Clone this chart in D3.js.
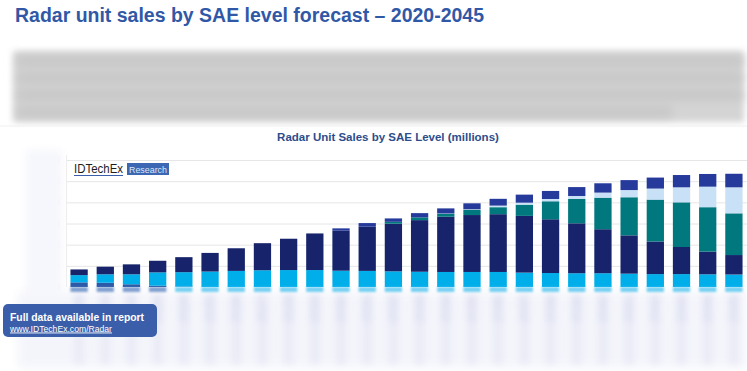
<!DOCTYPE html>
<html>
<head>
<meta charset="utf-8">
<script src="https://cdn.jsdelivr.net/npm/d3@7"></script>
<style>
  body { margin: 0; background: #fff; }
  svg { display: block; font-family: "Liberation Sans", Arial, sans-serif; }
</style>
</head>
<body>
<script>
// data (millions of units)
const years = d3.range(2020, 2046).map(String)
const level0 = [11, 10, 6.5, 3, 1, 0, 0, 0, 0, 0, 0, 0, 0, 0, 0, 0, 0, 0, 0, 0, 0, 0, 0, 0, 0, 0]
const level1 = [17, 20, 23.5, 31.5, 34, 36.5, 38, 39.5, 40, 40, 38.5, 38, 37, 36, 35.5, 35.5, 35.5, 34, 33, 32.5, 32.5, 31.5, 30.5, 30.5, 30, 29.5]
const level2 = [13.5, 18, 23.5, 27.5, 35.5, 44, 53.5, 64, 74, 86.5, 94.5, 104.5, 112.5, 122, 130.5, 134.5, 136.5, 134, 127, 118, 104, 90.5, 77, 64, 53.5, 46]
const level3 = [0, 0, 0, 0, 0, 0, 0, 0, 0, 0, 0, 0, 4.5, 6.5, 7, 12.5, 16.5, 26.5, 42.5, 57.5, 74.5, 90, 99, 105.5, 105, 98.5]
const level4p = [0, 0, 0, 0, 0, 0, 0, 0, 0, 0, 0, 0, 0, 0, 0.7, 1.2, 3.8, 4.7, 5.4, 7, 12, 17, 26, 35.5, 48.5, 61.5]
const level4r = [0, 0, 0, 0, 0, 0, 0, 0, 0, 0, 5.5, 8.5, 8, 10, 12, 14, 16, 19, 19, 21, 22, 23.5, 26, 29, 30, 32]
const yTicks = [0, 50, 100, 150, 200, 250, 300]

const keys = ['L0', 'L1', 'L2', 'L3', 'L4p', 'L4r']
const colors = {L0: '#2a5aa8', L1: '#00aeea', L2: '#17246b', L3: '#00787e', L4p: '#c9e1f6', L4r: '#253a9b'}
const rows = years.map((yr, i) => ({
  year: yr, L0: level0[i], L1: level1[i], L2: level2[i],
  L3: level3[i], L4p: level4p[i], L4r: level4r[i]
}))

const W = 747, H = 371
const svg = d3.select('body').append('svg').attr('width', W).attr('height', H)

const defs = svg.append('defs')
;[['b2', 2], ['b3', 3], ['b4', 4], ['b5', 5], ['b1', 1.3]].forEach(([id, s]) => {
  defs.append('filter').attr('id', id)
    .attr('filterUnits', 'userSpaceOnUse')
    .attr('x', 0).attr('y', 0).attr('width', W).attr('height', H)
    .append('feGaussianBlur').attr('stdDeviation', s)
})

// title
svg.append('text')
  .attr('x', 15).attr('y', 22)
  .attr('font-size', 19.5).attr('font-weight', 'bold')
  .attr('fill', '#3158a6')
  .attr('textLength', 469).attr('lengthAdjust', 'spacingAndGlyphs')
  .text('Radar unit sales by SAE level forecast \u2013 2020-2045')

// blurred paragraph
svg.append('rect').attr('x', 13).attr('y', 51).attr('width', 731).attr('height', 71)
  .attr('fill', '#d4d4d4').attr('filter', 'url(#b3)')
const para = svg.append('g').attr('filter', 'url(#b5)')
;[[56, 726], [73, 726], [90, 726], [107, 655]].forEach(([yy, ww]) => {
  para.append('rect').attr('x', 17).attr('y', yy).attr('width', ww).attr('height', 10).attr('fill', '#c6c6c6')
})

svg.append('line').attr('x1', 0).attr('x2', W).attr('y1', 126).attr('y2', 126)
  .attr('stroke', '#f0f0f0')

// chart subtitle
svg.append('text')
  .attr('x', 388).attr('y', 141)
  .attr('text-anchor', 'middle')
  .attr('font-size', 11.5).attr('font-weight', 'bold')
  .attr('fill', '#2c4d8c')
  .text('Radar Unit Sales by SAE Level (millions)')

// scales
const x = d3.scaleBand().domain(years).range([66, 747]).paddingInner(0.34).paddingOuter(0.17)
const y = d3.scaleLinear().domain([0, 300]).range([287, 160])

// haze behind y labels and x labels
svg.append('rect').attr('x', 26).attr('y', 150).attr('width', 36).attr('height', 145)
  .attr('fill', '#f6f7fc').attr('filter', 'url(#b4)')
svg.append('rect').attr('x', 18).attr('y', 292).attr('width', 729).attr('height', 76)
  .attr('fill', '#f4f5fb').attr('filter', 'url(#b5)')

// gridlines
const grid = svg.append('g')
  .attr('transform', 'translate(66,0)')
  .call(d3.axisLeft(y).tickValues(yTicks.slice(1)).tickSize(-(747 - 66)).tickFormat(''))
grid.select('.domain').remove()
grid.selectAll('line').attr('stroke', '#e6e6e6')
svg.append('line').attr('x1', 66.5).attr('x2', 66.5).attr('y1', 155).attr('y2', 287)
  .attr('stroke', '#eeeeee')

// blurred y labels
const yAx = svg.append('g')
  .attr('transform', 'translate(58,0)')
  .attr('filter', 'url(#b2)')
  .call(d3.axisLeft(y).tickValues(yTicks).tickSize(0).tickPadding(2))
yAx.select('.domain').remove()
yAx.selectAll('text').attr('font-size', 11).attr('font-weight', 'bold').attr('fill', '#bcc2e4')

// x streaks and blurred year labels
svg.append('g').attr('filter', 'url(#b3)')
  .selectAll('rect').data(years).enter().append('rect')
  .attr('x', d => x(d) + x.bandwidth() / 2 - 5)
  .attr('y', 294).attr('width', 10).attr('height', 70)
  .attr('fill', '#eaebf6')
const xAx = svg.append('g')
  .attr('transform', 'translate(0,292)')
  .attr('filter', 'url(#b3)')
  .call(d3.axisBottom(x).tickSize(0).tickPadding(0))
xAx.select('.domain').remove()
xAx.selectAll('text')
  .attr('font-size', 12).attr('fill', '#d3d7ee')
  .attr('text-anchor', 'end')
  .attr('transform', 'rotate(-90)')
  .attr('dx', -4).attr('dy', 4)

// stacked bars
const stacked = d3.stack().keys(keys)(rows)
svg.append('g').selectAll('g').data(stacked).enter().append('g')
  .attr('fill', d => colors[d.key])
  .selectAll('rect').data(d => d).enter().append('rect')
    .attr('x', d => x(d.data.year))
    .attr('y', d => y(d[1]))
    .attr('width', x.bandwidth())
    .attr('height', d => y(d[0]) - y(d[1]))

// blurred foot of bars
svg.append('g').attr('filter', 'url(#b1)')
  .selectAll('rect').data(rows).enter().append('rect')
  .attr('x', d => x(d.year)).attr('y', y(0))
  .attr('width', x.bandwidth()).attr('height', 5)
  .attr('fill', d => d.L0 > 1.5 ? '#5a82c0' : '#4cc3ef').attr('opacity', 0.75)

// logo
const logo = svg.append('g')
logo.append('text').attr('x', 74).attr('y', 173)
  .attr('font-size', 12.5).attr('fill', '#1e1e1e')
  .attr('textLength', 49).attr('lengthAdjust', 'spacingAndGlyphs')
  .text('IDTechEx')
logo.append('line').attr('x1', 74).attr('x2', 123).attr('y1', 175.5).attr('y2', 175.5)
  .attr('stroke', '#3a5ea9').attr('stroke-width', 1)
logo.append('rect').attr('x', 127).attr('y', 163).attr('width', 42).attr('height', 12)
  .attr('fill', '#3b67b3')
logo.append('text').attr('x', 148).attr('y', 172.5)
  .attr('text-anchor', 'middle')
  .attr('font-size', 9.5).attr('fill', '#dfe8f7')
  .attr('textLength', 38).attr('lengthAdjust', 'spacingAndGlyphs')
  .text('Research')

// callout box
const box = svg.append('g')
box.append('rect').attr('x', 3).attr('y', 304).attr('width', 154).attr('height', 33)
  .attr('rx', 5).attr('fill', '#3a5ea9')
box.append('text').attr('x', 10).attr('y', 320.5)
  .attr('font-size', 10.5).attr('font-weight', 'bold').attr('fill', '#fff')
  .attr('textLength', 134).attr('lengthAdjust', 'spacingAndGlyphs')
  .text('Full data available in report')
box.append('text').attr('x', 10).attr('y', 331.5)
  .attr('font-size', 9).attr('fill', '#fff')
  .attr('text-decoration', 'underline')
  .attr('textLength', 102).attr('lengthAdjust', 'spacingAndGlyphs')
  .text('www.IDTechEx.com/Radar')
</script>
</body>
</html>
